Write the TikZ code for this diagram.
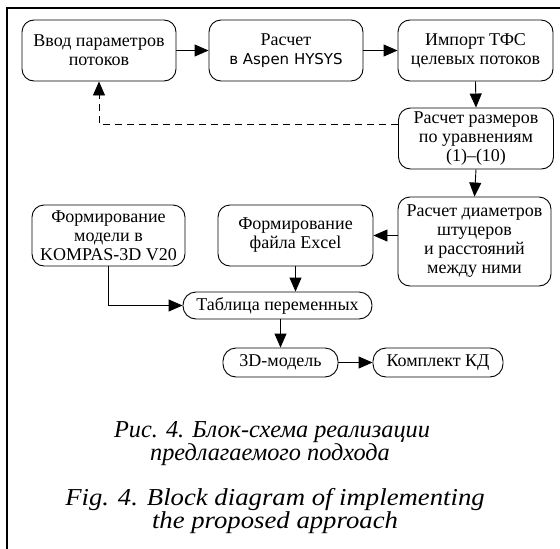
\documentclass[tikz,border=0pt]{standalone}
\usepackage{fontspec}
\setmainfont{Liberation Serif}
\newfontfamily\dvsans{DejaVu Sans}
\newfontfamily\engcap[FakeStretch=1.1]{Liberation Serif}
\usetikzlibrary{arrows.meta}
\tikzset{
  box/.style={draw, line width=0.9pt, rounded corners=12pt, align=center,
    inner sep=0pt, font=\fontsize{18}{19}\selectfont},
  pill/.style={box, rounded corners=13pt},
  arr/.style={line width=0.9pt, -{Triangle[length=14pt,width=12pt]}},
  rucap/.style={anchor=base, font=\fontsize{24.3}{23}\selectfont\itshape},
  encap/.style={anchor=base, font=\engcap\fontsize{24.3}{23}\selectfont\itshape}
}
\begin{document}
\begin{tikzpicture}[x=1pt,y=-1pt]
\useasboundingbox (0,0) rectangle (560,549);
\draw[line width=1.3pt] (7,549) -- (7,8) -- (560,8);
\node[box, minimum width=154pt, minimum height=61pt] (b1) at (99,50.5) {Ввод параметров\\потоков};
\node[box, minimum width=154pt, minimum height=61pt] (b2) at (286,50.5) {Расчет\\{\dvsans\fontsize{15}{19}\selectfont в Aspen HYSYS}};
\node[box, minimum width=155pt, minimum height=61pt] (b3) at (475.5,50.5) {Импорт ТФС\\целевых потоков};
\node[box, minimum width=155pt, minimum height=61pt] (b4) at (476,138.5) {Расчет размеров\\по уравнениям\\(1)–(10)};
\node[box, minimum width=153pt, minimum height=89pt] (b5) at (474.5,241.5) {Расчет диаметров\\штуцеров\\и расстояний\\между ними};
\node[box, minimum width=155pt, minimum height=61pt] (b6) at (295.5,235.5) {Формирование\\файла Excel};
\node[box, minimum width=153pt, minimum height=61pt] (b7) at (108.5,235.5) {Формирование\\модели в\\KOMPAS-3D V20};
\node[pill, minimum width=189pt, minimum height=27pt] (b8) at (277.5,305.5) {Таблица переменных};
\node[pill, minimum width=115pt, minimum height=29pt] (b9) at (280.5,362.5) {3D-модель};
\node[pill, minimum width=130pt, minimum height=29pt] (b10) at (438,362.5) {Комплект КД};
\draw[arr] (b1.east) -- (b2.west);
\draw[arr] (b2.east) -- (b3.west);
\draw[arr] (b3.south) -- (b4.north);
\draw[arr] (b4.south) -- (b5.north);
\draw[arr] (b5.west |- b6.east) -- (b6.east);
\draw[arr] (b6.south) -- (b6.south |- b8.north);
\draw[arr] (b7.south) |- (b8.west);
\draw[arr] (b9.north |- b8.south) -- (b9.north);
\draw[arr] (b9.east) -- (b10.west);
\draw[arr, dash pattern=on 7pt off 5pt] ([yshift=14.5pt]b4.west) -| (b1.south);
\node[rucap] (c1a) at (272,437.5) {Рис. 4. Блок-схема реализации};
\node[rucap] (c1b) at (270,460.5) {предлагаемого подхода};
\node[encap] (c2a) at (275,505) {Fig. 4. Block diagram of implementing};
\node[encap] (c2b) at (275,528) {the proposed approach};
\end{tikzpicture}
\end{document}
